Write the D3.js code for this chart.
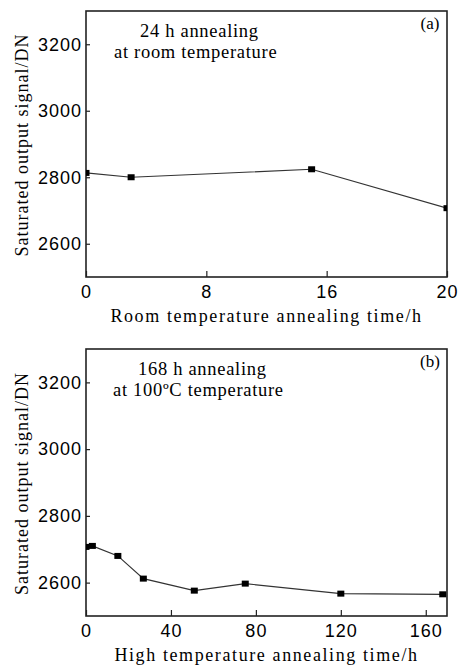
<!DOCTYPE html>
<html>
<head>
<meta charset="utf-8">
<script src="https://cdn.jsdelivr.net/npm/d3@7"></script>
<style>
  body { margin: 0; background: #fff; }
  svg { display: block; font-family: "Liberation Serif", "DejaVu Serif", serif; }
</style>
</head>
<body>
<svg width="462" height="665"></svg>
<script>
// Data
const roomTime = [0, 3, 15, 24];
const roomSignal = [2813, 2800, 2824, 2707];
const roomTicks = [0, 8, 16, 24];
const roomTickLabels = ["0", "8", "16", "20"];

const hotTime = [0, 3, 15, 27, 51, 75, 120, 168];
const hotSignal = [2707, 2710, 2680, 2612, 2576, 2597, 2567, 2565];
const hotTicks = [0, 40, 80, 120, 160];
const hotTickLabels = ["0", "40", "80", "120", "160"];

const yTicks = [2600, 2800, 3000, 3200];

const svg = d3.select("svg");

const left = 86, right = 447;

function panel(opts) {
  const g = svg.append("g");
  const top = opts.top, bottom = opts.bottom;

  const x = d3.scaleLinear().domain(opts.xDomain).range([left, right]);
  const y = d3.scaleLinear().domain([2500, 3300]).range([bottom, top]);

  const clipId = "clip-" + opts.id;
  g.append("clipPath").attr("id", clipId)
    .append("rect")
    .attr("x", left).attr("y", top)
    .attr("width", right - left).attr("height", bottom - top);

  // x axis, inward ticks
  const xAxis = g.append("g")
    .attr("transform", `translate(0,${bottom})`)
    .call(d3.axisBottom(x)
      .tickValues(opts.xTicks)
      .tickFormat((d, i) => opts.xLabels[i])
      .tickSize(-6)
      .tickPadding(8));
  xAxis.select(".domain").remove();
  xAxis.selectAll("text")
    .style("font-size", "18px")
    .style("letter-spacing", "1px")
    .attr("fill", "#000");
  xAxis.selectAll("line").attr("stroke", "#222").attr("stroke-width", 1.2);

  // y axis, inward ticks
  const yAxis = g.append("g")
    .attr("transform", `translate(${left},0)`)
    .call(d3.axisLeft(y)
      .tickValues(yTicks)
      .tickFormat(d3.format("d"))
      .tickSize(-4)
      .tickPadding(4));
  yAxis.select(".domain").remove();
  yAxis.selectAll("text")
    .style("font-size", "18px")
    .style("letter-spacing", "1px")
    .attr("fill", "#000");
  yAxis.selectAll("line").attr("stroke", "#222").attr("stroke-width", 1.2);

  // frame
  g.append("rect")
    .attr("x", left).attr("y", top)
    .attr("width", right - left).attr("height", bottom - top)
    .attr("fill", "none")
    .attr("stroke", "#222")
    .attr("stroke-width", 1.6);

  const pts = opts.xs.map((t, i) => [t, opts.ys[i]]);

  const plot = g.append("g").attr("clip-path", `url(#${clipId})`);
  plot.append("path")
    .datum(pts)
    .attr("fill", "none")
    .attr("stroke", "#333")
    .attr("stroke-width", 1.2)
    .attr("d", d3.line().x(d => x(d[0])).y(d => y(d[1])));

  plot.selectAll("rect.mark")
    .data(pts)
    .join("rect")
    .attr("class", "mark")
    .attr("x", d => x(d[0]) - 3.5)
    .attr("y", d => y(d[1]) - 3)
    .attr("width", 7)
    .attr("height", 6)
    .attr("fill", "#000");

  // annotation text
  g.append("text")
    .attr("x", opts.noteX[0]).attr("y", top + 26)
    .style("font-size", "18.5px")
    .style("letter-spacing", "0.7px")
    .text(opts.note[0]);
  g.append("text")
    .attr("x", opts.noteX[1]).attr("y", top + 47)
    .style("font-size", "18.5px")
    .style("letter-spacing", "0.7px")
    .text(opts.note[1]);

  g.append("text")
    .attr("x", 430).attr("y", top + 18)
    .attr("text-anchor", "middle")
    .style("font-size", "17px")
    .text(opts.tag);

  // axis titles
  g.append("text")
    .attr("x", (left + right) / 2).attr("y", bottom + 45)
    .attr("text-anchor", "middle")
    .style("font-size", "18px")
    .style("letter-spacing", "1.6px")
    .attr("fill", "#000")
    .text(opts.xTitle);

  g.append("text")
    .attr("transform", `translate(28,${(top + bottom) / 2 + 1}) rotate(-90)`)
    .attr("text-anchor", "middle")
    .style("font-size", "18px")
    .style("letter-spacing", "1px")
    .attr("fill", "#000")
    .text("Saturated output signal/DN");
}

panel({
  id: "a", top: 11, bottom: 277,
  xDomain: [0, 24], xTicks: roomTicks, xLabels: roomTickLabels,
  xs: roomTime, ys: roomSignal,
  note: ["24 h annealing", "at room temperature"], noteX: [140, 114],
  tag: "(a)", xTitle: "Room temperature annealing time/h"
});

panel({
  id: "b", top: 349, bottom: 616,
  xDomain: [0, 170], xTicks: hotTicks, xLabels: hotTickLabels,
  xs: hotTime, ys: hotSignal,
  note: ["168 h annealing", "at 100ºC temperature"], noteX: [138, 113],
  tag: "(b)", xTitle: "High temperature annealing time/h"
});
</script>
</body>
</html>
